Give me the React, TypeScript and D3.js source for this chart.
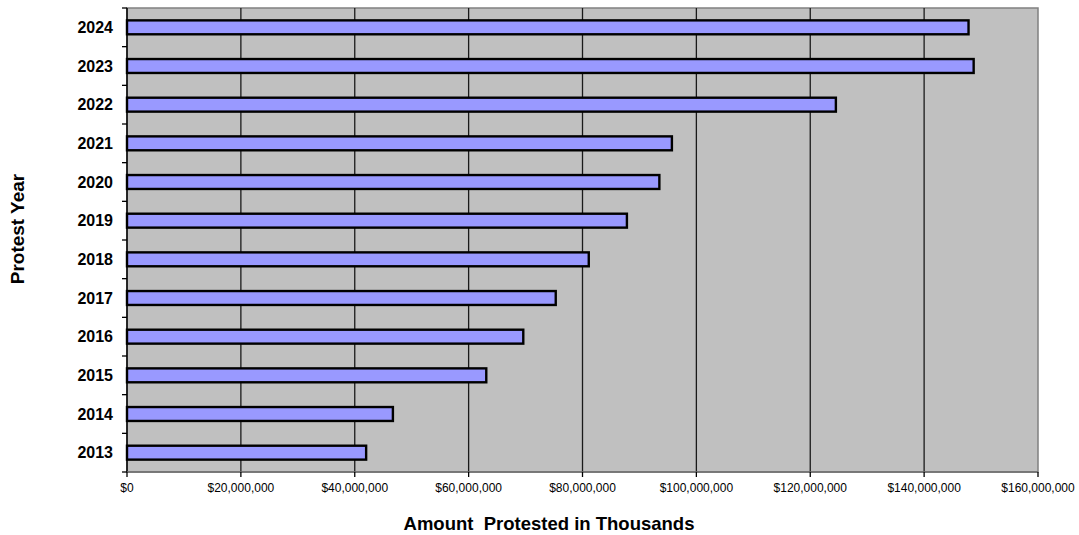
import React from "react";
import * as d3 from "d3";

// Protest years, top to bottom
const years: string[] = ["2024", "2023", "2022", "2021", "2020", "2019", "2018", "2017", "2016", "2015", "2014", "2013"];
// Amount protested per year (dollars)
const amounts: number[] = [147.8e6, 148.7e6, 124.5e6, 95.7e6, 93.5e6, 87.8e6, 81.1e6, 75.3e6, 69.6e6, 63.1e6, 46.7e6, 42.0e6];
const xTicks: number[] = [0, 20e6, 40e6, 60e6, 80e6, 100e6, 120e6, 140e6, 160e6];

const W = 1079;
const H = 535;
const plot = { left: 127, right: 1038, top: 8, bottom: 472 };
const FONT = "Arial, 'Liberation Sans', sans-serif";

export default function App() {
  const x = d3.scaleLinear().domain([0, 160e6]).range([plot.left, plot.right]);
  const y = d3
    .scaleBand<string>()
    .domain(years)
    .range([plot.top, plot.bottom])
    .paddingInner(0.64)
    .paddingOuter(0.32);
  const step = y.step();
  const fmt = (v: number) => "$" + d3.format(",")(v);
  const boundaries = d3.range(years.length + 1).map((i) => plot.top + i * step);

  return (
    <svg
      width={W}
      height={H}
      style={{ position: "absolute", left: 0, top: 0, background: "#fff" }}
      fontFamily={FONT}
    >
      {/* plot area */}
      <rect
        x={plot.left}
        y={plot.top}
        width={plot.right - plot.left}
        height={plot.bottom - plot.top}
        fill="#c0c0c0"
        stroke="#808080"
        strokeWidth={1.5}
      />
      {/* vertical gridlines */}
      {xTicks.slice(1, -1).map((t) => (
        <line key={"g" + t} x1={x(t)} x2={x(t)} y1={plot.top} y2={plot.bottom} stroke="#1a1a1a" strokeWidth={1.3} />
      ))}
      {/* bars */}
      {years.map((yr, i) => (
        <rect
          key={yr}
          x={x(0)}
          y={y(yr)}
          width={x(amounts[i]) - x(0)}
          height={y.bandwidth()}
          fill="#9999ff"
          stroke="#000"
          strokeWidth={2.4}
        />
      ))}
      {/* y axis */}
      <line x1={plot.left} x2={plot.left} y1={plot.top} y2={plot.bottom} stroke="#000" strokeWidth={1.5} />
      {boundaries.map((b, i) => (
        <line key={"yt" + i} x1={plot.left - 5} x2={plot.left} y1={b} y2={b} stroke="#000" strokeWidth={1.3} />
      ))}
      {years.map((yr) => (
        <text
          key={"yl" + yr}
          x={113}
          y={(y(yr) as number) + y.bandwidth() / 2 + 5.8}
          textAnchor="end"
          fontSize={16}
          fontWeight="bold"
          fill="#000"
        >
          {yr}
        </text>
      ))}
      {/* x axis */}
      <line x1={plot.left} x2={plot.right} y1={plot.bottom} y2={plot.bottom} stroke="#6e6e6e" strokeWidth={1.5} />
      {xTicks.map((t) => (
        <g key={"xt" + t}>
          <line x1={x(t)} x2={x(t)} y1={plot.bottom} y2={plot.bottom + 5} stroke="#000" strokeWidth={1.3} />
          <text x={x(t)} y={492} textAnchor="middle" fontSize={12} fill="#000">
            {fmt(t)}
          </text>
        </g>
      ))}
      {/* axis titles */}
      <text
        x={549}
        y={530}
        textAnchor="middle"
        fontSize={18.5}
        fontWeight="bold"
        fill="#000"
        style={{ whiteSpace: "pre" }}
      >
        {"Amount  Protested in Thousands"}
      </text>
      <text
        transform="translate(24,229) rotate(-90)"
        textAnchor="middle"
        fontSize={19}
        fontWeight="bold"
        fill="#000"
      >
        Protest Year
      </text>
    </svg>
  );
}
